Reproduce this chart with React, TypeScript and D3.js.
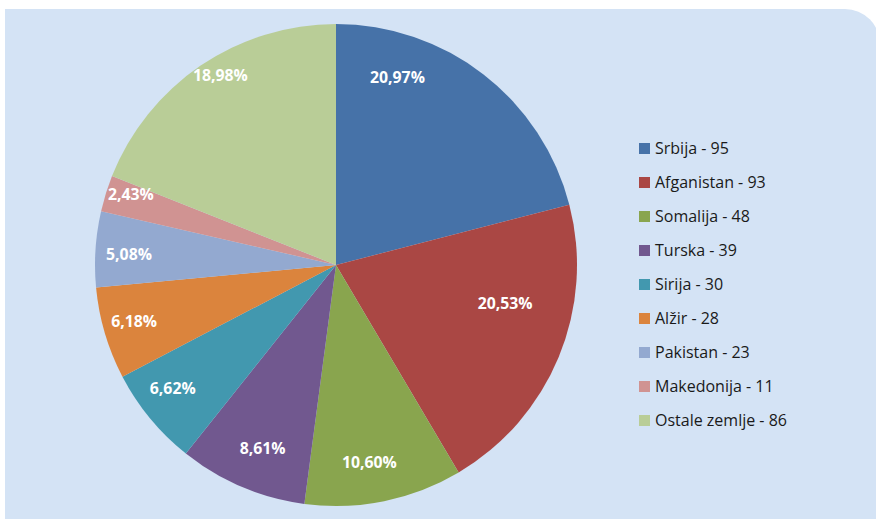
import React from "react";
import * as d3 from "d3";

const countries = ["Srbija", "Afganistan", "Somalija", "Turska", "Sirija", "Alžir", "Pakistan", "Makedonija", "Ostale zemlje"];
const counts = [95, 93, 48, 39, 30, 28, 23, 11, 86];
const colors = ["#4672a8", "#aa4744", "#89a54e", "#71588f", "#4298af", "#db843d", "#93a9d0", "#d09392", "#b9cd97"];

// label placement within each slice: [fraction of slice angle, fraction of radius]
const labelLayout: [number, number][] = [
  [0.24, 0.82], [0.37, 0.72], [0.55, 0.83], [0.46, 0.82], [0.6, 0.85],
  [0.54, 0.87], [0.45, 0.86], [0.69, 0.9], [0.54, 0.92],
];

const W = 876;
const H = 519;

export default function App() {
  const cx = 336, cy = 265, r = 241;
  const total = d3.sum(counts);
  const pie = d3.pie<number>().sort(null).value((d) => d);
  const arcs = pie(counts);
  const arc = d3.arc<d3.PieArcDatum<number>>().innerRadius(0).outerRadius(r);
  const fmt = (v: number) => (v * 100).toFixed(2).replace(".", ",") + "%";

  const bx0 = 5, by0 = 9, bx1 = 880, by1 = 530, rc = 35;
  const bg = `M${bx0},${by0} L${bx1 - rc},${by0} A${rc},${rc} 0 0 1 ${bx1},${by0 + rc} L${bx1},${by1} L${bx0},${by1} Z`;

  const legendY = d3.scaleLinear().domain([0, 1]).range([148.5, 182.5]);

  return (
    <svg width={W} height={H} style={{ position: "absolute", left: 0, top: 0 }}>
      <rect x={0} y={0} width={W} height={H} fill="#ffffff" />
      <path d={bg} fill="#d4e3f5" />
      <g transform={`translate(${cx},${cy})`}>
        {arcs.map((a, i) => (
          <path key={i} d={arc(a) || ""} fill={colors[i]} />
        ))}
        {arcs.map((a, i) => {
          const [fa, fr] = labelLayout[i];
          const ang = a.startAngle + (a.endAngle - a.startAngle) * fa;
          const x = Math.sin(ang) * r * fr;
          const y = -Math.cos(ang) * r * fr;
          return (
            <text key={"l" + i} x={x} y={y} dy="0.35em" textAnchor="middle" fill="#ffffff"
              fontFamily="'Open Sans', sans-serif" fontWeight="bold" fontSize={15.8}>
              {fmt(a.value / total)}
            </text>
          );
        })}
      </g>
      <g>
        {countries.map((c, i) => (
          <g key={c} transform={`translate(639,${legendY(i)})`}>
            <rect x={0} y={-5.5} width={11} height={11} fill={colors[i]} />
            <text x={16} y={0} dy="0.35em" fill="#1a1a1a" fontFamily="'Open Sans', sans-serif" fontSize={16}>
              {`${c} - ${counts[i]}`}
            </text>
          </g>
        ))}
      </g>
    </svg>
  );
}
